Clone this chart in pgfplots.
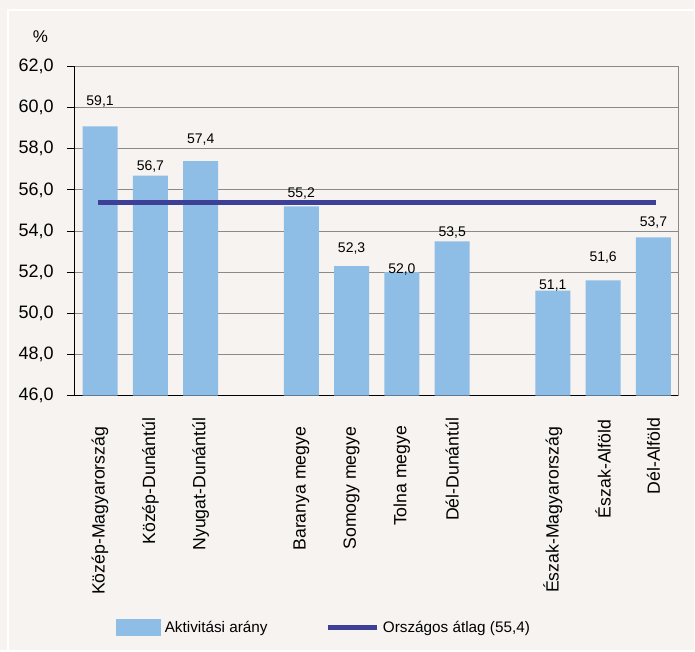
\documentclass[border=0pt]{standalone}
\usepackage{fontspec}
\setmainfont{Liberation Sans}
\usepackage{pgfplots}
\pgfplotsset{compat=1.18}
\usepackage{pgfplotstable}

\definecolor{bgcol}{RGB}{246,243,240}
\definecolor{barcol}{RGB}{142,190,230}
\definecolor{linecol}{RGB}{62,64,152}
\definecolor{gridcol}{RGB}{138,138,138}

% x = slot, y = activity rate, gap = label offset above bar top (pt)
\pgfplotstableread{
x  y    gap
0  59.1 21
1  56.7 5
2  57.4 18
4  55.2 8.6
5  52.3 13.6
6  52.0 -1
7  53.5 5
9  51.1 1
10 51.6 18.7
11 53.7 10.5
}\aktiv

\begin{document}
\begin{tikzpicture}
\fill[bgcol] (0pt,0pt) rectangle (695pt,651pt);
\draw[white, line width=1.5pt] (8pt,0pt) -- (8pt,641pt) -- (695pt,641pt);
\useasboundingbox (0pt,0pt) rectangle (695pt,651pt);
\begin{axis}[
  at={(75pt,255pt)}, anchor=south west,
  width=604.3pt, height=329.3pt, scale only axis,
  xmin=-0.5, xmax=11.5, ymin=46, ymax=62,
  axis x line=bottom, axis y line=left,
  axis line style={-, black, line width=1pt},
  ytick={46,48,50,52,54,56,58,60,62},
  ytick align=outside,
  major tick length=8pt,
  ytick style={black, line width=1pt},
  xtick style={draw=none},
  xtick={0,1,2,4,5,6,7,9,10,11},
  xticklabels={Közép-Magyarország\kern9pt,Közép-Dunántúl,Nyugat-Dunántúl,Baranya megye\kern9pt,Somogy megye\kern9pt,Tolna megye\kern8pt,Dél-Dunántúl,Észak-Magyarország\kern9pt,Észak-Alföld\kern2pt,Dél-Alföld},
  xticklabel style={rotate=90, anchor=east, inner sep=0pt, font=\fontsize{17.7}{20}\selectfont},
  xticklabel shift=18pt,
  yticklabel style={anchor=east, inner sep=0pt, font=\fontsize{18}{20}\selectfont,
    /pgf/number format/.cd, fixed, fixed zerofill, precision=1, use comma, assume math mode=true},
  yticklabel shift=13pt,
  ymajorgrids,
  grid style={gridcol, line width=1pt},
  ylabel={\%},
  ylabel style={rotate=-90, at={(axis description cs:-0.057,1.0926)}, anchor=center, inner sep=0pt, font=\fontsize{17}{20}\selectfont},
  bar width=35pt,
  legend columns=2,
  legend style={at={(axis description cs:0.0678,-0.7056)}, anchor=west, draw=none, fill=none,
    inner sep=0pt, outer sep=0pt, font=\fontsize{15.3}{18}\selectfont,
    nodes={inner sep=0pt},
    /tikz/every odd column/.append style={column sep=4pt},
    /tikz/every even column/.append style={column sep=58pt}},
  after end axis/.code={\draw[gridcol, line width=1.3pt] (rel axis cs:0,1) -- (rel axis cs:1,1) -- (rel axis cs:1,0);},
]
\addplot[ybar, fill=barcol, draw=none,
  legend image code/.code={\fill[barcol] (0pt,-8.5pt) rectangle (45pt,8.5pt);},
  visualization depends on={\thisrow{gap} \as \gap},
  point meta=y,
  nodes near coords={\pgfmathprintnumber[fixed, fixed zerofill, precision=1, use comma, assume math mode=true]{\pgfplotspointmeta}},
  every node near coord/.append style={anchor=base, inner sep=0pt, yshift=\gap pt, font=\fontsize{14}{16}\selectfont, black},
] table[x=x, y=y] {\aktiv};
\addlegendentry{Aktivitási arány}
\addplot[linecol, line width=4.5pt, line cap=rect, mark=none,
  legend image code/.code={\draw[linecol, line width=4.5pt, line cap=butt] (0pt,0pt) -- (49pt,0pt);},
] coordinates {(0,55.4) (11,55.4)};
\addlegendentry{Országos átlag (55,4)}
\end{axis}
\end{tikzpicture}
\end{document}
